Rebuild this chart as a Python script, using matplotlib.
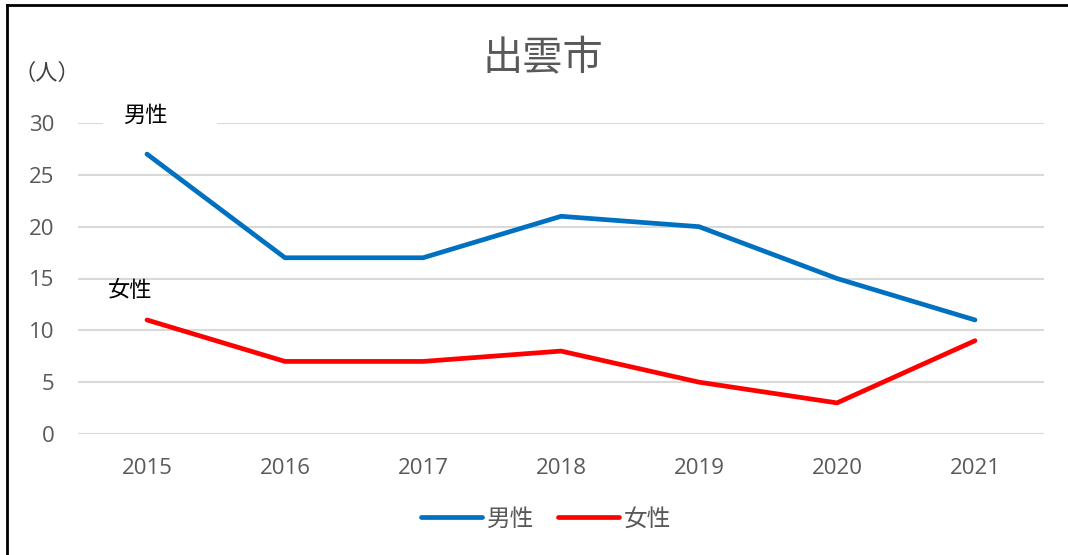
import matplotlib
matplotlib.use("Agg")
import matplotlib.pyplot as plt
from matplotlib.lines import Line2D

plt.rcParams['font.family'] = ['Noto Sans CJK JP', 'DejaVu Sans']

years = ['2015', '2016', '2017', '2018', '2019', '2020', '2021']
male = [27, 17, 17, 21, 20, 15, 11]
female = [11, 7, 7, 8, 5, 3, 9]
yticks = [0, 5, 10, 15, 20, 25, 30]

fig = plt.figure(figsize=(10.68, 5.55), dpi=100)
ax = fig.add_axes([78/1068, 1-434/555, (1044-78)/1068, (434-123)/555])

x = list(range(len(years)))
ax.plot(x, male, color='#0070C0', lw=3.4, solid_capstyle='round', solid_joinstyle='round', label='男性', zorder=3)
ax.plot(x, female, color='#FF0000', lw=3.4, solid_capstyle='round', solid_joinstyle='round', label='女性', zorder=3)

ax.set_xlim(-0.5, len(years) - 0.5)
ax.set_ylim(0, 30)
ax.set_yticks(yticks)
ax.set_xticks(x)
ax.set_xticklabels(years)
ax.yaxis.grid(True, color='#D9D9D9', lw=1.5)
ax.set_axisbelow(True)
for s in ax.spines.values():
    s.set_visible(False)
ax.tick_params(axis='both', length=0, colors='#595959', labelsize=16)
ax.tick_params(axis='x', pad=17)
ax.tick_params(axis='y', pad=17)
for lbl in ax.get_yticklabels() + ax.get_xticklabels():
    lbl.set_family(['Open Sans', 'DejaVu Sans'])
    lbl.set_color('#595959')

fig.text(543/1068, 1-59/555, '出雲市', ha='center', va='center', fontsize=29, color='#595959')
fig.text(47/1068, 1-73/555, '（人）', ha='center', va='center', fontsize=16, color='#404040')

ax.text(-0.01, 30.75, '男性', ha='center', va='center', fontsize=16, color='black', zorder=4)
ax.fill_between([-0.32, 0.51], 29.5, 31.5, color='white', zorder=2, lw=0)
ax.text(-0.12, 13.85, '女性', ha='center', va='center', fontsize=16, color='black', zorder=4)

handles = [Line2D([0], [0], color='#0070C0', lw=3.4, solid_capstyle='round'),
           Line2D([0], [0], color='#FF0000', lw=3.4, solid_capstyle='round')]
leg = fig.legend(handles, ['男性', '女性'], loc='center', bbox_to_anchor=(546/1068, 1-519/555),
                 ncol=2, frameon=False, fontsize=17, handlelength=2.6, handletextpad=0.2,
                 columnspacing=1.0)
for t in leg.get_texts():
    t.set_color('#595959')

# figure border (top and left)
fig.add_artist(Line2D([7/1068, 1], [1-5/555, 1-5/555], color='black', lw=2, transform=fig.transFigure))
fig.add_artist(Line2D([7/1068, 7/1068], [0, 1-5/555], color='black', lw=2, transform=fig.transFigure))

fig.savefig('out.png', dpi=100)
